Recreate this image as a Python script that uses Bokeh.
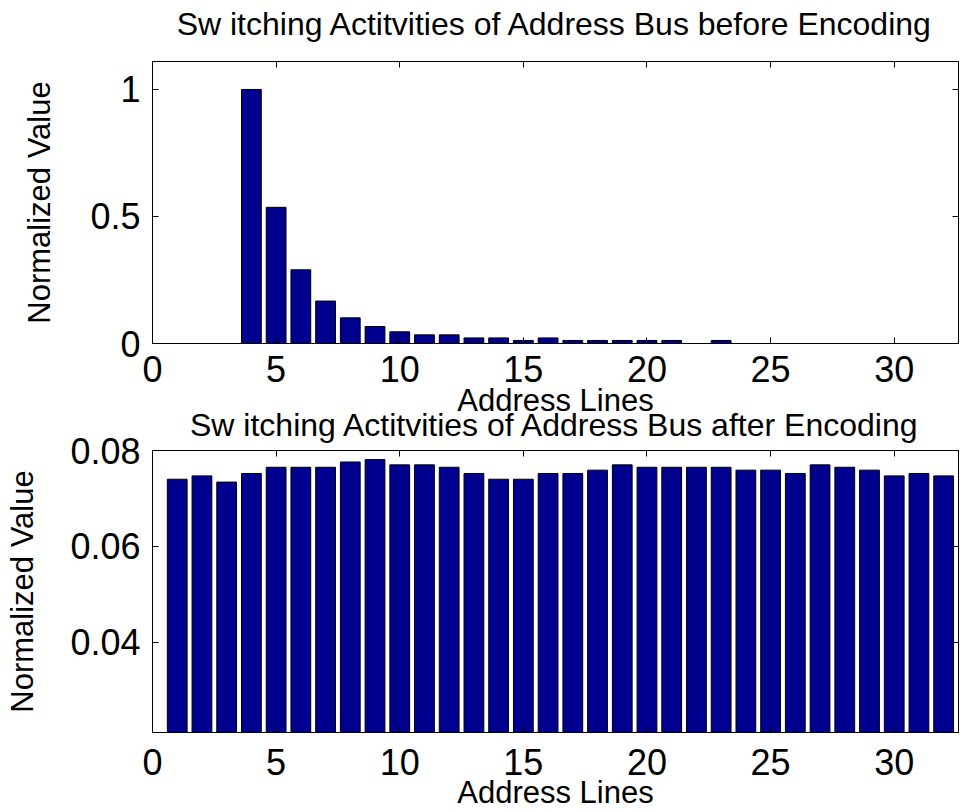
from bokeh.plotting import figure
from bokeh.models import (LinearAxis, FixedTicker, PrintfTickFormatter, Range1d, Title,
                          ColumnDataSource, CustomLabelingPolicy)
from bokeh.layouts import column
from bokeh.embed import file_html
from bokeh.resources import INLINE

# ---------------- data ----------------
address_lines = list(range(1, 33))
before_encoding = [0, 0, 0, 1.0, 0.536, 0.290, 0.167, 0.101, 0.067, 0.046,
                   0.034, 0.034, 0.022, 0.022, 0.012, 0.022, 0.012, 0.012, 0.012, 0.012,
                   0.012, 0, 0.012, 0, 0, 0, 0, 0, 0, 0, 0, 0]
after_encoding = [0.0740, 0.0747, 0.0734, 0.0752, 0.0765, 0.0765, 0.0765, 0.0776, 0.0781, 0.0770,
                  0.0770, 0.0765, 0.0752, 0.0740, 0.0740, 0.0752, 0.0752, 0.0759, 0.0770, 0.0765,
                  0.0765, 0.0765, 0.0765, 0.0759, 0.0759, 0.0752, 0.0770, 0.0765, 0.0759, 0.0747,
                  0.0752, 0.0747]
x_ticks = [0, 5, 10, 15, 20, 25, 30]
before_y_ticks = [0, 0.5, 1]
after_y_ticks = [0.04, 0.06, 0.08]
title_before = "Sw itching Actitvities of Address Bus before Encoding"
title_after = "Sw itching Actitvities of Address Bus after Encoding"
x_label = "Address Lines"
y_label = "Normalized Value"

FONT = "Liberation Sans"
BAR_COLOR = "#00008F"
X_RANGE = (0, 32.6)

HIDE_LABELS = CustomLabelingPolicy(
    code="const a = [...indices]; for (const i of a) { indices.unset(i) } return indices")


def style_axis(ax, ticks, show_labels):
    ax.ticker = FixedTicker(ticks=ticks)
    ax.formatter = PrintfTickFormatter(format="%g")
    ax.major_tick_in = 6
    ax.major_tick_out = 0
    ax.minor_tick_line_color = None
    ax.major_tick_line_color = "black"
    ax.axis_line_color = "black"
    ax.major_label_text_font = FONT
    ax.major_label_text_color = "black"
    if show_labels:
        ax.major_label_text_font_size = "36px"
    else:
        ax.major_label_text_font_size = "1px"
        ax.major_label_standoff = 0
        ax.major_label_policy = HIDE_LABELS


def style_label(ax, standoff):
    ax.axis_label_text_font = FONT
    ax.axis_label_text_font_size = "31px"
    ax.axis_label_text_font_style = "normal"
    ax.axis_label_text_color = "black"
    ax.axis_label_standoff = standoff


def make_title(text, standoff, offset):
    return Title(text=text, align="center", standoff=standoff, offset=offset,
                 text_font=FONT, text_font_size="32px", text_font_style="normal",
                 text_color="black")


def make_panel(values, y_range, y_ticks, height, border_top, border_bottom,
               ylabel_standoff, xtick_standoff, xlabel_standoff,
               title, title_standoff, title_offset, margin):
    p = figure(width=963, height=height,
               x_range=Range1d(*X_RANGE), y_range=Range1d(*y_range),
               min_border_left=152, min_border_right=1,
               min_border_top=border_top, min_border_bottom=border_bottom,
               output_backend="svg", toolbar_location=None, margin=margin)
    p.title = make_title(title, title_standoff, title_offset)
    p.grid.visible = False
    p.outline_line_color = "black"
    p.outline_line_alpha = 1
    p.background_fill_color = "white"
    p.border_fill_color = None

    src = ColumnDataSource(dict(x=address_lines, top=values))
    p.vbar(x="x", top="top", bottom=0, width=0.8, source=src,
           fill_color=BAR_COLOR, line_color="black", line_width=1)

    style_axis(p.xaxis[0], x_ticks, True)
    p.xaxis[0].major_label_standoff = xtick_standoff
    p.xaxis[0].axis_label = x_label
    style_label(p.xaxis[0], xlabel_standoff)

    style_axis(p.yaxis[0], y_ticks, True)
    p.yaxis[0].major_label_standoff = 12
    p.yaxis[0].axis_label = y_label
    style_label(p.yaxis[0], ylabel_standoff)

    top_ax = LinearAxis()
    style_axis(top_ax, x_ticks, False)
    p.add_layout(top_ax, "above")
    right_ax = LinearAxis()
    style_axis(right_ax, y_ticks, False)
    p.add_layout(right_ax, "right")
    return p


# upper chart: canvas starts above the page so its title can sit high
p1 = make_panel(before_encoding, (0, 1.11), before_y_ticks, height=440,
                border_top=81, border_bottom=76, ylabel_standoff=30,
                xtick_standoff=12, xlabel_standoff=-2,
                title=title_before, title_standoff=32, title_offset=0,
                margin=(-20, 0, 0, 0))
p1.border_fill_color = "white"

# lower chart: canvas overlaps the bottom of the upper one (transparent border)
p2 = make_panel(after_encoding, (0.0211, 0.08), after_y_ticks, height=420,
                border_top=58, border_bottom=78, ylabel_standoff=27,
                xtick_standoff=16, xlabel_standoff=-3,
                title=title_after, title_standoff=7, title_offset=12,
                margin=(-28, 0, 0, 0))

layout = column(p1, p2, spacing=0)
open("out.html", "w").write(file_html(layout, INLINE))
